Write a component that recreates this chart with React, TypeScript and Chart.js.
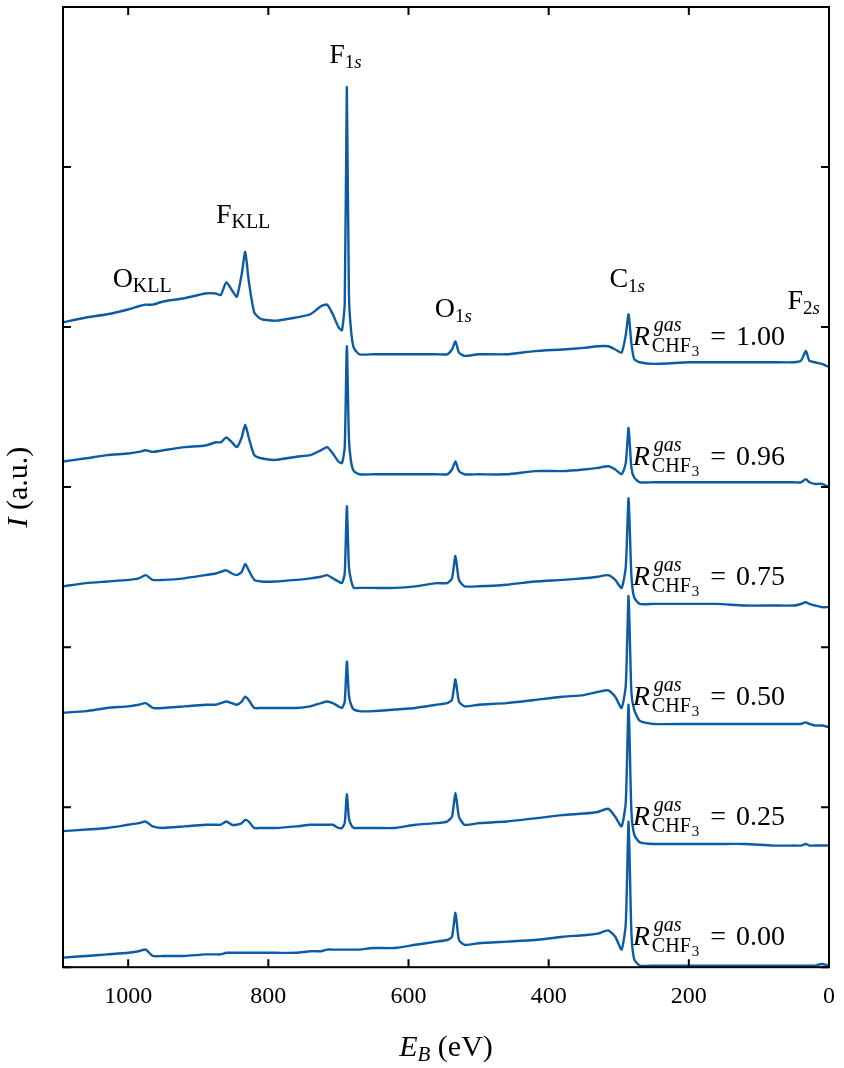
import { useEffect, useRef } from 'react';
import { Chart, registerables } from 'chart.js';

Chart.register(...registerables);

// Binding energy grid (eV), shared by all spectra
const energies = [
  1093, 1060, 1030, 1000, 985, 975, 965, 950, 920, 890,
  875, 868, 860, 852, 845, 838, 833, 828, 820, 810,
  790, 760, 740, 725, 716, 708, 700, 695, 691, 688,
  685, 682, 678, 670, 650, 620, 590, 560, 545, 538,
  533, 528, 520, 500, 460, 420, 380, 350, 330, 315,
  305, 296, 290, 286, 282, 278, 270, 250, 200, 160,
  120, 80, 50, 40, 33, 28, 20, 10, 0,
];

// Intensities (a.u., already stacked with offsets as plotted)
const r100 = [
  4.03, 4.06, 4.08, 4.11, 4.13, 4.14, 4.14, 4.16, 4.18, 4.21,
  4.21, 4.20, 4.28, 4.23, 4.19, 4.33, 4.47, 4.29, 4.09, 4.05,
  4.04, 4.06, 4.08, 4.13, 4.14, 4.08, 4.00, 3.98, 4.15, 5.50,
  4.20, 3.98, 3.87, 3.83, 3.83, 3.83, 3.83, 3.83, 3.83, 3.86,
  3.91, 3.84, 3.82, 3.83, 3.83, 3.85, 3.86, 3.87, 3.88, 3.88,
  3.86, 3.84, 3.95, 4.08, 3.90, 3.80, 3.78, 3.77, 3.78, 3.78,
  3.78, 3.78, 3.78, 3.79, 3.85, 3.79, 3.78, 3.77, 3.75,
];
const r096 = [
  3.16, 3.18, 3.20, 3.21, 3.22, 3.23, 3.22, 3.23, 3.25, 3.26,
  3.28, 3.28, 3.31, 3.28, 3.25, 3.31, 3.39, 3.31, 3.20, 3.18,
  3.17, 3.19, 3.20, 3.23, 3.25, 3.21, 3.16, 3.15, 3.25, 3.88,
  3.30, 3.16, 3.10, 3.08, 3.08, 3.08, 3.08, 3.08, 3.08, 3.11,
  3.16, 3.10, 3.08, 3.08, 3.08, 3.10, 3.10, 3.11, 3.12, 3.13,
  3.11, 3.08, 3.15, 3.37, 3.12, 3.06, 3.03, 3.03, 3.03, 3.03,
  3.03, 3.03, 3.03, 3.03, 3.05, 3.03, 3.02, 3.02, 3.00,
];
const r075 = [
  2.38, 2.40, 2.41, 2.42, 2.43, 2.45, 2.42, 2.42, 2.43, 2.45,
  2.46, 2.47, 2.48, 2.46, 2.45, 2.47, 2.52, 2.48, 2.42, 2.41,
  2.41, 2.42, 2.43, 2.44, 2.45, 2.43, 2.41, 2.40, 2.46, 2.88,
  2.50, 2.42, 2.37, 2.37, 2.37, 2.37, 2.38, 2.40, 2.40, 2.43,
  2.57, 2.42, 2.38, 2.38, 2.39, 2.41, 2.42, 2.43, 2.44, 2.45,
  2.42, 2.37, 2.50, 2.93, 2.45, 2.31, 2.27, 2.27, 2.27, 2.27,
  2.26, 2.26, 2.26, 2.27, 2.28, 2.27, 2.26, 2.25, 2.25,
];
const r050 = [
  1.59, 1.60, 1.62, 1.63, 1.64, 1.65, 1.62, 1.62, 1.63, 1.64,
  1.64, 1.65, 1.66, 1.65, 1.64, 1.66, 1.69, 1.67, 1.62, 1.62,
  1.62, 1.62, 1.63, 1.65, 1.66, 1.65, 1.63, 1.62, 1.66, 1.91,
  1.70, 1.64, 1.61, 1.60, 1.60, 1.61, 1.62, 1.64, 1.65, 1.67,
  1.80, 1.66, 1.63, 1.64, 1.65, 1.67, 1.69, 1.70, 1.72, 1.73,
  1.69, 1.62, 1.76, 2.32, 1.72, 1.61, 1.54, 1.52, 1.52, 1.52,
  1.52, 1.52, 1.52, 1.52, 1.53, 1.52, 1.51, 1.51, 1.50,
];
const r025 = [
  0.85, 0.86, 0.87, 0.89, 0.90, 0.91, 0.88, 0.87, 0.88, 0.89,
  0.89, 0.89, 0.91, 0.89, 0.89, 0.90, 0.92, 0.91, 0.87, 0.87,
  0.87, 0.88, 0.89, 0.89, 0.89, 0.89, 0.87, 0.87, 0.90, 1.08,
  0.93, 0.89, 0.87, 0.87, 0.87, 0.87, 0.89, 0.90, 0.91, 0.94,
  1.09, 0.94, 0.89, 0.90, 0.91, 0.93, 0.95, 0.96, 0.97, 0.99,
  0.94, 0.88, 1.03, 1.64, 0.98, 0.83, 0.78, 0.77, 0.77, 0.77,
  0.77, 0.76, 0.76, 0.76, 0.77, 0.76, 0.76, 0.76, 0.76,
];
const r000 = [
  0.06, 0.07, 0.08, 0.09, 0.10, 0.11, 0.07, 0.07, 0.07, 0.08,
  0.08, 0.08, 0.09, 0.09, 0.09, 0.09, 0.09, 0.09, 0.09, 0.09,
  0.09, 0.09, 0.10, 0.10, 0.11, 0.11, 0.11, 0.11, 0.11, 0.11,
  0.11, 0.11, 0.11, 0.11, 0.12, 0.12, 0.14, 0.16, 0.17, 0.19,
  0.34, 0.17, 0.14, 0.15, 0.16, 0.17, 0.19, 0.20, 0.21, 0.23,
  0.19, 0.11, 0.27, 0.91, 0.22, 0.05, 0.01, 0.01, 0.01, 0.01,
  0.01, 0.01, 0.01, 0.01, 0.01, 0.01, 0.01, 0.02, 0.01,
];

const spectra = [r100, r096, r075, r050, r025, r000];
const ratioLabels = ['1.00', '0.96', '0.75', '0.50', '0.25', '0.00'];
const ratioLabelY = [3.89, 3.14, 2.39, 1.64, 0.89, 0.14];
const ratioLabelE = 280;

const xTickValues = [0, 200, 400, 600, 800, 1000];
const yTickValues = [0, 1, 2, 3, 4, 5, 6];

const LINE_COLOR = 'rgb(12,92,163)';
const FONT = '"Liberation Serif", "DejaVu Serif", serif';

type Part = { t: string; size: number; italic?: boolean; dy?: number };

const subNs = (n: string): Part[] => [
  { t: n, size: 19, dy: 5 },
  { t: 's', size: 19, italic: true, dy: 5 },
];

const peakLabels: { parts: Part[]; e: number; y: number }[] = [
  { parts: [{ t: 'F', size: 28 }, ...subNs('1')], e: 690, y: 5.65 },
  { parts: [{ t: 'F', size: 28 }, { t: 'KLL', size: 20, dy: 5 }], e: 836, y: 4.65 },
  { parts: [{ t: 'O', size: 28 }, { t: 'KLL', size: 20, dy: 5 }], e: 980, y: 4.25 },
  { parts: [{ t: 'O', size: 28 }, ...subNs('1')], e: 536, y: 4.06 },
  { parts: [{ t: 'C', size: 28 }, ...subNs('1')], e: 288, y: 4.25 },
  { parts: [{ t: 'F', size: 28 }, ...subNs('2')], e: 36, y: 4.11 },
];

function fontOf(p: Part) {
  return `${p.italic ? 'italic ' : ''}${p.size}px ${FONT}`;
}

function partsWidth(ctx: CanvasRenderingContext2D, parts: Part[]) {
  let w = 0;
  for (const p of parts) {
    ctx.font = fontOf(p);
    w += ctx.measureText(p.t).width;
  }
  return w;
}

function drawParts(ctx: CanvasRenderingContext2D, parts: Part[], x: number, y: number, center: boolean) {
  let cx = center ? x - partsWidth(ctx, parts) / 2 : x;
  ctx.textAlign = 'left';
  ctx.textBaseline = 'alphabetic';
  for (const p of parts) {
    ctx.font = fontOf(p);
    ctx.fillText(p.t, cx, y + (p.dy || 0));
    cx += ctx.measureText(p.t).width;
  }
}

function drawRatio(ctx: CanvasRenderingContext2D, value: string, x: number, y: number) {
  ctx.textAlign = 'left';
  ctx.textBaseline = 'alphabetic';
  ctx.font = `italic 28px ${FONT}`;
  ctx.fillText('R', x, y);
  const xs = x + ctx.measureText('R').width + 2;
  ctx.font = `italic 20px ${FONT}`;
  ctx.fillText('gas', xs + 2, y - 14);
  const wGas = ctx.measureText('gas').width + 2;
  ctx.font = `20px ${FONT}`;
  ctx.fillText('CHF', xs, y + 7);
  const wChf = ctx.measureText('CHF').width;
  ctx.font = `15px ${FONT}`;
  ctx.fillText('3', xs + wChf + 1, y + 11);
  const w3 = ctx.measureText('3').width + 1;
  let xa = xs + Math.max(wGas, wChf + w3) + 11;
  ctx.font = `28px ${FONT}`;
  ctx.fillText('=', xa, y);
  xa += ctx.measureText('=').width + 10;
  ctx.fillText(value, xa, y);
}

const decorPlugin = {
  id: 'decor',
  afterDraw(chart: any) {
    const ctx: CanvasRenderingContext2D = chart.ctx;
    const { left, right, top, bottom } = chart.chartArea;
    const xs = chart.scales.x;
    const ys = chart.scales.y;
    ctx.save();
    ctx.strokeStyle = '#000';
    ctx.lineWidth = 2;
    ctx.strokeRect(left, top, right - left, bottom - top);
    ctx.beginPath();
    for (const v of xTickValues) {
      const px = xs.getPixelForValue(v);
      ctx.moveTo(px, bottom);
      ctx.lineTo(px, bottom - 8);
      ctx.moveTo(px, top);
      ctx.lineTo(px, top + 8);
    }
    for (const v of yTickValues) {
      const py = ys.getPixelForValue(v);
      ctx.moveTo(left, py);
      ctx.lineTo(left + 8, py);
      ctx.moveTo(right, py);
      ctx.lineTo(right - 8, py);
    }
    ctx.stroke();

    ctx.fillStyle = '#000';
    for (const pl of peakLabels) {
      drawParts(ctx, pl.parts, xs.getPixelForValue(pl.e), ys.getPixelForValue(pl.y), true);
    }
    ratioLabels.forEach((lab, i) => {
      drawRatio(ctx, lab, xs.getPixelForValue(ratioLabelE), ys.getPixelForValue(ratioLabelY[i]));
    });
    drawParts(
      ctx,
      [
        { t: 'E', size: 30, italic: true },
        { t: 'B', size: 21, italic: true, dy: 5 },
        { t: ' (eV)', size: 30 },
      ],
      (left + right) / 2,
      1056,
      true
    );
    ctx.translate(27, (top + bottom) / 2);
    ctx.rotate(-Math.PI / 2);
    drawParts(
      ctx,
      [
        { t: 'I', size: 30, italic: true },
        { t: ' (a.u.)', size: 30 },
      ],
      0,
      0,
      true
    );
    ctx.restore();
  },
};

export default function App() {
  const ref = useRef<HTMLCanvasElement | null>(null);
  useEffect(() => {
    if (!ref.current) return;
    const chart = new Chart(ref.current, {
      type: 'line',
      data: {
        datasets: spectra.map((arr, k) => ({
          label: ratioLabels[k],
          data: energies.map((e, i) => ({ x: e, y: arr[i] })),
          borderColor: LINE_COLOR,
          borderWidth: 2.4,
          borderJoinStyle: 'round' as const,
          pointRadius: 0,
          fill: false,
          tension: 0.2,
        })),
      },
      options: {
        animation: false,
        responsive: false,
        layout: { padding: { left: 63, right: 15, top: 7, bottom: 42 } },
        plugins: {
          legend: { display: false },
          tooltip: { enabled: false },
        },
        scales: {
          x: {
            type: 'linear',
            min: 0,
            max: 1093,
            reverse: true,
            grid: { display: false, drawTicks: false },
            border: { display: false },
            afterBuildTicks: (s: any) => {
              s.ticks = xTickValues.map((v) => ({ value: v }));
            },
            ticks: {
              autoSkip: false,
              maxRotation: 0,
              padding: 15,
              color: '#000',
              font: { family: FONT, size: 24 },
              callback: (v: any) => String(v),
            },
          },
          y: {
            type: 'linear',
            min: 0,
            max: 6,
            display: false,
          },
        },
      },
      plugins: [decorPlugin],
    });
    return () => chart.destroy();
  }, []);
  return (
    <div style={{ position: 'absolute', left: 0, top: 0, width: 844, height: 1068, background: '#fff' }}>
      <canvas ref={ref} width={844} height={1068} />
    </div>
  );
}
